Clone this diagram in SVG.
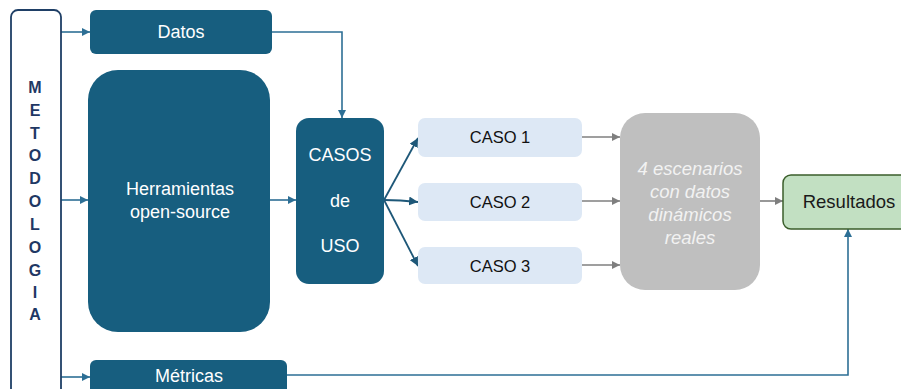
<svg xmlns="http://www.w3.org/2000/svg" width="901" height="389" viewBox="0 0 901 389">
  <style>
    .dark { fill: #175E7F; }
    .lbl { font-family: "Liberation Sans", Arial, sans-serif; font-size: 18px; fill: #FFFFFF; text-anchor: middle; dominant-baseline: central; }
    .caso { fill: #DDE8F5; }
    .caso-t { font-family: "Liberation Sans", Arial, sans-serif; font-size: 16.5px; fill: #111111; text-anchor: middle; dominant-baseline: central; }
    .res-t { font-family: "Liberation Sans", Arial, sans-serif; font-size: 18.5px; fill: #1A1A1A; text-anchor: middle; dominant-baseline: central; }
    .side { font-family: "Liberation Sans", Arial, sans-serif; font-size: 16px; font-weight: bold; fill: #1F3864; text-anchor: middle; dominant-baseline: central; }
    .gray-t { font-family: "Liberation Sans", Arial, sans-serif; font-size: 18.5px; font-style: italic; fill: #F2F2F2; text-anchor: middle; dominant-baseline: central; }
    .blue { stroke: #2D6F95; stroke-width: 1.6; fill: none; marker-end: url(#ab); }
    .navy { stroke: #1D5778; stroke-width: 1.8; fill: none; marker-end: url(#an); }
    .grey { stroke: #7F7F7F; stroke-width: 1.6; fill: none; marker-end: url(#ag); }
  </style>
  <defs>
    <marker id="ab" viewBox="0 0 10 10" refX="10" refY="5" markerWidth="5" markerHeight="5" orient="auto" markerUnits="strokeWidth">
      <path d="M0,0 L10,5 L0,10 z" fill="#2D6F95"/>
    </marker>
    <marker id="an" viewBox="0 0 10 10" refX="10" refY="5" markerWidth="5" markerHeight="5" orient="auto" markerUnits="strokeWidth">
      <path d="M0,0 L10,5 L0,10 z" fill="#1D5778"/>
    </marker>
    <marker id="ag" viewBox="0 0 10 10" refX="10" refY="5" markerWidth="5" markerHeight="5" orient="auto" markerUnits="strokeWidth">
      <path d="M0,0 L10,5 L0,10 z" fill="#7F7F7F"/>
    </marker>
  </defs>

  <rect width="901" height="389" fill="#FFFFFF"/>

  <!-- connectors -->
  <g id="connectors">
    <path class="blue" d="M61,32 H90"/>
    <path class="blue" d="M61,200 H88"/>
    <path class="blue" d="M61,377 H90"/>
    <path class="blue" d="M272,32 H342 V118"/>
    <path class="blue" d="M270,200 H296"/>
    <path class="navy" d="M384,200 L418,138"/>
    <path class="navy" d="M384,200 Q400,200 418,202"/>
    <path class="navy" d="M384,200 L418,266"/>
    <path class="grey" d="M582,137 H620"/>
    <path class="grey" d="M582,201 H620"/>
    <path class="grey" d="M582,265 H620"/>
    <path class="grey" d="M760,201 H783"/>
    <path class="blue" d="M287,375 H848 V229"/>
  </g>

  <!-- vertical methodology bar -->
  <g id="metodologia">
    <rect x="11" y="10" width="50" height="390" rx="7" fill="#FFFFFF" stroke="#1F3F66" stroke-width="1.8"/>
    <text class="side" x="35" y="87">M</text>
    <text class="side" x="35" y="110">E</text>
    <text class="side" x="35" y="133">T</text>
    <text class="side" x="35" y="155">O</text>
    <text class="side" x="35" y="178">D</text>
    <text class="side" x="35" y="201">O</text>
    <text class="side" x="35" y="224">L</text>
    <text class="side" x="35" y="247">O</text>
    <text class="side" x="35" y="270">G</text>
    <text class="side" x="35" y="292">I</text>
    <text class="side" x="35" y="314">A</text>
  </g>

  <g id="datos">
    <rect class="dark" x="90" y="10" width="182" height="44" rx="6"/>
    <text class="lbl" x="181" y="32">Datos</text>
  </g>

  <g id="herramientas">
    <rect class="dark" x="88" y="70" width="182" height="262" rx="30"/>
    <text class="lbl" x="180" y="189">Herramientas</text>
    <text class="lbl" x="180" y="212">open-source</text>
  </g>

  <g id="metricas">
    <rect class="dark" x="90" y="360" width="197" height="40" rx="6"/>
    <text class="lbl" x="189" y="376">Métricas</text>
  </g>

  <g id="casos-de-uso">
    <rect class="dark" x="296" y="118" width="88" height="166" rx="13"/>
    <text class="lbl" x="340" y="155">CASOS</text>
    <text class="lbl" x="340" y="201">de</text>
    <text class="lbl" x="340" y="246">USO</text>
  </g>

  <g id="caso1">
    <rect class="caso" x="418" y="118" width="164" height="39" rx="7"/>
    <text class="caso-t" x="500" y="137">CASO 1</text>
  </g>
  <g id="caso2">
    <rect class="caso" x="418" y="183" width="164" height="38" rx="7"/>
    <text class="caso-t" x="500" y="202">CASO 2</text>
  </g>
  <g id="caso3">
    <rect class="caso" x="418" y="247" width="164" height="37" rx="7"/>
    <text class="caso-t" x="500" y="266">CASO 3</text>
  </g>

  <g id="escenarios">
    <rect x="620" y="113" width="140" height="177" rx="25" fill="#BFBFBF"/>
    <text class="gray-t" x="690" y="168">4 escenarios</text>
    <text class="gray-t" x="690" y="191">con datos</text>
    <text class="gray-t" x="690" y="214">dinámicos</text>
    <text class="gray-t" x="690" y="237">reales</text>
  </g>

  <g id="resultados">
    <rect x="783" y="175" width="135" height="54" rx="8" fill="#C2E0C2" stroke="#3B5E2B" stroke-width="1.5"/>
    <text class="res-t" x="849" y="201">Resultados</text>
  </g>
</svg>
